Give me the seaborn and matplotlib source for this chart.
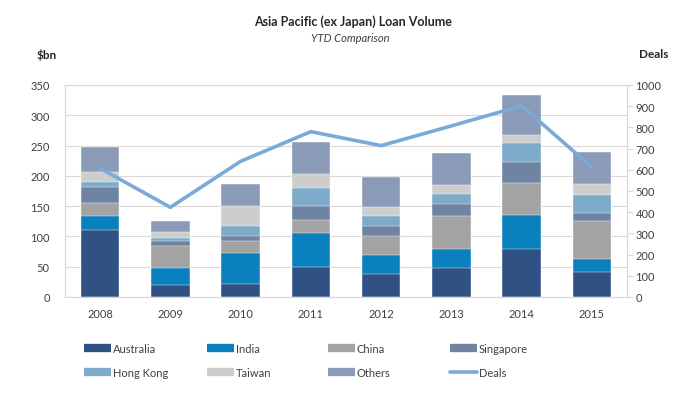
import matplotlib
matplotlib.use("Agg")
import matplotlib.pyplot as plt
import seaborn as sns
import pandas as pd
import numpy as np
from matplotlib.lines import Line2D

years = ["2008", "2009", "2010", "2011", "2012", "2013", "2014", "2015"]
australia = [110, 19, 22, 50, 38, 48, 80, 41]
india = [24, 29, 50, 55, 32, 32, 56, 22]
china = [21, 37, 21, 22, 31, 54, 52, 63]
singapore = [27, 7, 7, 24, 17, 19, 35, 12]
hong_kong = [8, 5, 18, 29, 15, 17, 32, 31]
taiwan = [17, 10, 33, 23, 16, 15, 13, 17]
others = [40, 18, 35, 53, 49, 53, 65, 54]
deals = [607, 423, 640, 780, 714, 807, 902, 612]

series_names = ["Australia", "India", "China", "Singapore", "Hong Kong", "Taiwan", "Others"]
series_vals = [australia, india, china, singapore, hong_kong, taiwan, others]
colors = ["#2F5183", "#0A80BF", "#A3A3A3", "#6F84A3", "#7DAAC8", "#CDCDCD", "#8B9BB7"]
line_color = "#7BAAD8"

sns.set_theme(style="white")
plt.rcParams['font.family'] = ['Lato', 'DejaVu Sans']

fig = plt.figure(figsize=(6.79, 4.06), dpi=100)
ax = fig.add_axes([65/679, 1-298/406, (627-65)/679, (298-86)/406])

cum = np.zeros(len(years))
cums = []
for v in series_vals:
    cum = cum + np.array(v)
    cums.append(cum.copy())

for name, c, color in reversed(list(zip(series_names, cums, colors))):
    d = pd.DataFrame({"year": years, "val": c})
    sns.barplot(data=d, x="year", y="val", color=color, width=0.55,
                saturation=1, ax=ax, zorder=2, edgecolor="white", linewidth=0.3)

ax.set_ylim(0, 350)
ax.set_yticks(range(0, 351, 50))
ax.set_xlim(-0.5, 7.5)
ax.grid(axis="y", color="#D9D9D9", linewidth=0.8, zorder=0)
ax.set_axisbelow(True)
ax.set_xlabel("")
ax.set_ylabel("")
for s in ax.spines.values():
    s.set_color("#D9D9D9")
    s.set_linewidth(0.8)
ax.tick_params(axis="y", length=0, pad=11, labelsize=8, labelcolor="#404040")
ax.tick_params(axis="x", length=0, pad=8, labelsize=8, labelcolor="#404040")

ax2 = ax.twinx()
dd = pd.DataFrame({"x": np.arange(len(years)), "deals": deals})
sns.lineplot(data=dd, x="x", y="deals", color=line_color, linewidth=2.6, ax=ax2, sort=False)
ax2.set_ylim(0, 1000)
ax2.set_yticks(range(0, 1001, 100))
ax2.set_xlim(-0.5, 7.5)
ax2.set_ylabel("")
ax2.set_xlabel("")
for s in ax2.spines.values():
    s.set_color("#D9D9D9")
    s.set_linewidth(0.8)
ax2.tick_params(axis="y", length=4, width=0.8, color="#D9D9D9", pad=2, labelsize=8, labelcolor="#404040")

fig.text(353/679, 1-22/406, "Asia Pacific (ex Japan) Loan Volume", ha="center", va="center",
         fontsize=9, fontweight="bold", color="#262626")
fig.text(350/679, 1-39/406, "YTD Comparison", ha="center", va="center",
         fontsize=8, style="italic", color="#404040")
fig.text(47/679, 1-55/406, "$bn", ha="center", va="center", fontsize=8.5, fontweight="bold", color="#262626")
fig.text(654/679, 1-55/406, "Deals", ha="center", va="center", fontsize=8.5, fontweight="bold", color="#262626")

handles = [Line2D([0], [0], color=c, lw=6, solid_capstyle="butt") for c in colors]
handles.append(Line2D([0], [0], color=line_color, lw=2.6, solid_capstyle="round"))
labels = series_names + ["Deals"]
col_x = [84, 207, 328, 450]
for ci, x0 in enumerate(col_x):
    idx = [ci, ci + 4]
    leg = fig.legend([handles[i] for i in idx], [labels[i] for i in idx], ncol=1,
                     loc="upper left", bbox_to_anchor=(x0/679, 1-344/406),
                     frameon=False, fontsize=8, handlelength=2.4,
                     handletextpad=0.2, labelspacing=1.15, borderaxespad=0,
                     borderpad=0)
    for t in leg.get_texts():
        t.set_color("#404040")

fig.savefig("out.png", dpi=100)
